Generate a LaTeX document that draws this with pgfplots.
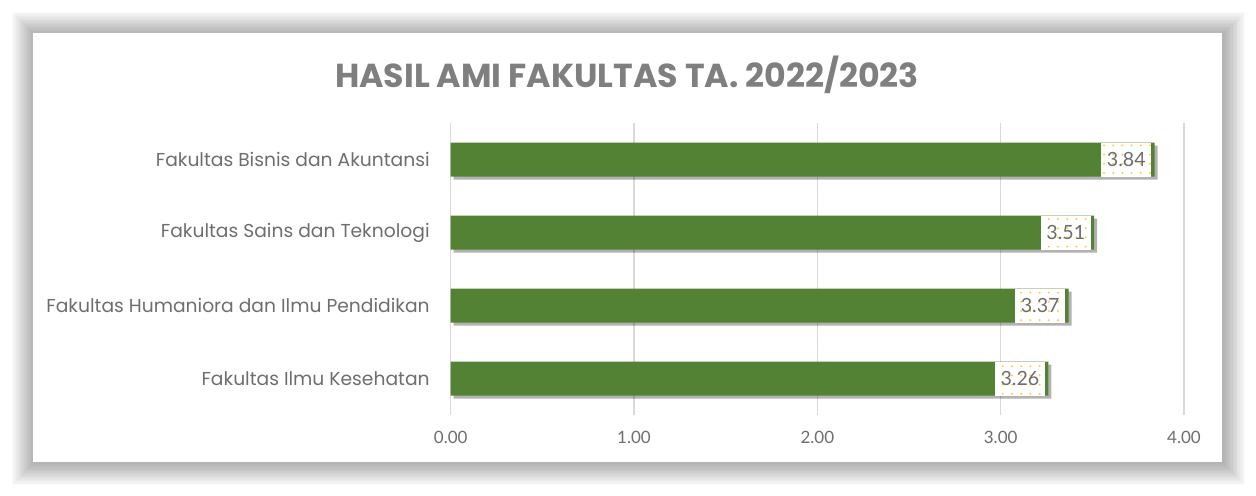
\documentclass[border=0pt]{standalone}
\usepackage{fontspec}
\setmainfont{Poppins}
\newfontfamily\numfont{Lato}
\usepackage{pgfplots}
\pgfplotsset{compat=1.18}
\usetikzlibrary{shadows,patterns.meta}
\definecolor{barGreen}{HTML}{548235}
\definecolor{txtGray}{HTML}{6E6E6E}
\definecolor{titleGray}{HTML}{7F7F7F}
\definecolor{gridGray}{HTML}{D9D9D9}
\definecolor{dotYellow}{HTML}{FFCC33}

\begin{document}
\begin{tikzpicture}
\useasboundingbox (0,0) rectangle (628pt,247.5pt);
\fill[white] (0,0) rectangle (628pt,247.5pt);
% soft shadow round the chart area
\foreach \i in {1,...,16} {
  \fill[black, opacity=0.02] ({16.5pt-\i*0.7pt+0.5pt},{16.5pt-\i*0.7pt-0.5pt})
    rectangle ({611pt+\i*0.7pt+0.5pt},{231pt+\i*0.7pt-0.5pt});
}
\fill[white] (16.5pt,16.5pt) rectangle (611pt,231pt);
\node[font=\bfseries\fontsize{16.6}{20}\selectfont, text=titleGray] at (313.5pt,210pt)
  {HASIL AMI FAKULTAS TA. 2022/2023};

\begin{axis}[
    scale only axis,
    width=366.65pt, height=146pt,
    at={(225.35pt,40pt)}, anchor=south west,
    xmin=0, xmax=4, ymin=-0.5, ymax=3.5,
    xtick={0,1,2,3,4}, ytick={0,1,2,3},
    yticklabels={Fakultas Ilmu Kesehatan, Fakultas Humaniora dan Ilmu Pendidikan,
                 Fakultas Sains dan Teknologi, Fakultas Bisnis dan Akuntansi},
    xmajorgrids, grid style={gridGray, line width=0.6pt},
    axis line style={draw=none}, major tick length=0,
    xticklabel style={font=\numfont\fontsize{8.5}{10}\selectfont, text=txtGray, yshift=-4.5pt,
      /pgf/number format/.cd, fixed, fixed zerofill, precision=2, assume math mode=true},
    yticklabel style={font=\fontsize{9.35}{11}\selectfont, text=txtGray, xshift=-7pt},
    clip=false,
    xbar, bar width=0.466,
    point meta=x,
    nodes near coords={\pgfmathprintnumber[fixed,fixed zerofill,precision=2,assume math mode=true]{\pgfplotspointmeta}},
    nodes near coords align={anchor=east},
    every node near coord/.append style={font=\numfont\fontsize{9.8}{11}\selectfont,
      text=txtGray, fill=white, inner xsep=2.8pt, inner ysep=0pt,
      minimum height=17pt, xshift=-1.5pt,
      postaction={pattern={Dots[distance=4.6pt, radius=0.55pt]}, pattern color=dotYellow}},
]
\addplot[fill=barGreen, draw=none,
  drop shadow={shadow xshift=1.5pt, shadow yshift=-1.5pt, opacity=0.3, fill=black}]
  coordinates {(3.26,0) (3.37,1) (3.51,2) (3.84,3)};
\end{axis}
\end{tikzpicture}
\end{document}
